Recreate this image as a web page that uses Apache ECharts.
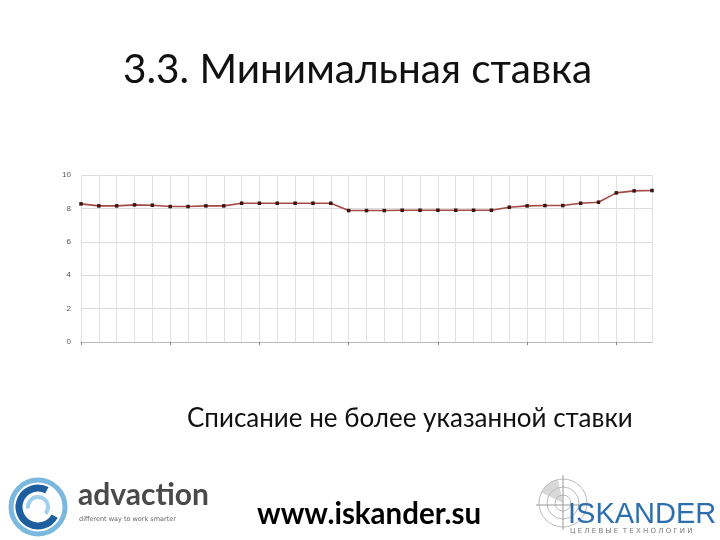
<!DOCTYPE html>
<html><head><meta charset="utf-8">
<script src="https://cdn.jsdelivr.net/npm/echarts@6/dist/echarts.min.js"></script>
<style>html,body{margin:0;padding:0;background:#fff}#c{width:720px;height:540px}</style>
</head><body><div id="c"></div>
<script>
const titleText = '3.3. Минимальная ставка';
const subtitleText = 'Списание не более указанной ставки';
const footerUrl = 'www.iskander.su';
const periods = ['1','2','3','4','5','6','7','8','9','10','11','12','13','14','15','16','17','18','19','20','21','22','23','24','25','26','27','28','29','30','31','32','33'];
const rateValues = [8.27,8.15,8.15,8.21,8.19,8.11,8.11,8.15,8.15,8.31,8.31,8.31,8.31,8.31,8.31,7.87,7.87,7.87,7.89,7.89,7.89,7.89,7.89,7.89,8.07,8.15,8.17,8.17,8.31,8.37,8.93,9.05,9.07];
const yTicks = [0,2,4,6,8,10];

const chart = echarts.init(document.getElementById('c'));
const option = {
  backgroundColor: '#fff',
  animation: false,
  grid: {left: 81, right: 68, top: 175, bottom: 198},
  xAxis: {
    type: 'category', data: periods, boundaryGap: false,
    axisLine: {show: true, lineStyle: {color: '#b8b8b8', width: 1}},
    axisTick: {show: true, interval: (i) => i % 5 === 0, length: 3, lineStyle: {color: '#888'}},
    axisLabel: {show: false},
    splitLine: {show: true, interval: 0, lineStyle: {color: '#e2e2e2', width: 1}}
  },
  yAxis: {
    type: 'value', min: yTicks[0], max: yTicks[yTicks.length-1], interval: 2,
    axisLine: {show: false}, axisTick: {show: false},
    axisLabel: {color: '#555', fontSize: 8, fontFamily: 'Liberation Sans', margin: 10},
    splitLine: {lineStyle: {color: '#dcdcdc', width: 1}}
  },
  series: [{
    type: 'line', data: rateValues,
    lineStyle: {color: '#a54a45', width: 1.6},
    symbol: 'rect', symbolSize: 3.5,
    itemStyle: {color: '#3a1212'}
  }],
  graphic: [
    {type: 'text', left: 123, top: 49, style: {text: titleText, font: '40.5px Lato', fill: '#111'}},
    {type: 'text', left: 187, top: 406, style: {text: subtitleText, font: '26px Lato', fill: '#111'}},
    {type: 'text', left: 257, top: 499, style: {text: footerUrl, font: 'bold 29.5px Lato', fill: '#000'}},
    // advaction logo
    {type: 'circle', shape: {cx: 38, cy: 507, r: 27}, style: {fill: 'none', stroke: '#5aa6d8', lineWidth: 5, opacity: 0.8}},
    {type: 'arc', shape: {cx: 38, cy: 507, r: 19, startAngle: 0.5, endAngle: 5.2}, style: {fill: 'none', stroke: '#1d5f9e', lineWidth: 7}},
    {type: 'arc', shape: {cx: 38, cy: 507, r: 10, startAngle: 3, endAngle: 7}, style: {fill: 'none', stroke: '#9fd0ee', lineWidth: 4}},
    {type: 'text', left: 78, top: 480, style: {text: 'advaction', font: 'bold 30px Lato', fill: '#4a4a4a'}},
    {type: 'text', left: 79, top: 516, style: {text: 'different way to work smarter', font: '6.5px "DejaVu Sans"', fill: '#666'}},
    // iskander logo
    {type: 'sector', shape: {cx: 563, cy: 503, r0: 0, r: 24, startAngle: 3.6, endAngle: 4.5}, style: {fill: '#d8d8d8'}},
    {type: 'circle', shape: {cx: 563, cy: 503, r: 24}, style: {fill: 'none', stroke: '#bbb', lineWidth: 1}},
    {type: 'circle', shape: {cx: 563, cy: 503, r: 16}, style: {fill: 'none', stroke: '#bbb', lineWidth: 1}},
    {type: 'circle', shape: {cx: 563, cy: 503, r: 8}, style: {fill: 'none', stroke: '#bbb', lineWidth: 1}},
    {type: 'line', shape: {x1: 563, y1: 475, x2: 563, y2: 530}, style: {stroke: '#999', lineWidth: 1}},
    {type: 'line', shape: {x1: 536, y1: 505, x2: 592, y2: 505}, style: {stroke: '#999', lineWidth: 1}},
    {type: 'text', left: 568, top: 500, style: {text: 'ISKANDER', font: '29px "Liberation Sans"', fill: '#2d6fae'}},
    {type: 'text', left: 570, top: 528, style: {text: 'Ц Е Л Е В Ы Е  Т Е Х Н О Л О Г И И', font: '7px "DejaVu Sans"', fill: '#777'}}
  ]
};
chart.setOption(option);
</script></body></html>
